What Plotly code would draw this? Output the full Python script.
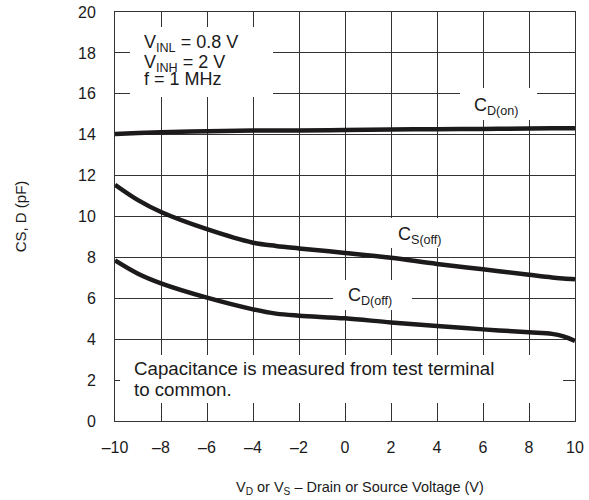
import plotly.graph_objects as go

# Data
vx = [-10, -9, -8, -6, -4, -3, -2, 0, 2, 4, 6, 8, 9, 9.5, 10]
cd_on = [14.03, 14.08, 14.12, 14.17, 14.2, 14.2, 14.21, 14.23, 14.25, 14.27, 14.28, 14.3, 14.31, 14.31, 14.32]
cs_off = [11.55, 10.8, 10.22, 9.38, 8.72, 8.56, 8.44, 8.22, 7.98, 7.68, 7.42, 7.15, 7.02, 6.97, 6.93]
cd_off = [7.85, 7.2, 6.73, 6.03, 5.46, 5.25, 5.15, 5.02, 4.82, 4.65, 4.48, 4.34, 4.26, 4.14, 3.92]

xticks = list(range(-10, 11, 2))
xticktext = [("\u2013" + str(-t)) if t < 0 else str(t) for t in xticks]
yticks = list(range(0, 21, 2))

FONT = "Liberation Sans, Arial, Helvetica, sans-serif"
LINE = "#1c1a1a"
GRID = "#333333"
TXT = "#1a1a1a"

fig = go.Figure()
for ys in (cd_on, cs_off, cd_off):
    fig.add_trace(go.Scatter(x=vx, y=ys, mode="lines",
                             line=dict(color=LINE, width=4.5, shape="spline", smoothing=1.0),
                             showlegend=False, hoverinfo="skip"))

# white label boxes hiding the grid (between grid and traces)
boxes = [(-9.35, -3.13, 15.84, 19.27),
         (-9.78, 9.48, 0.88, 3.23),
         (5.0, 8.35, 14.72, 16.28),
         (1.74, 4.57, 8.46, 9.93),
         (-0.52, 2.91, 5.43, 6.89)]
for x0, x1, y0, y1 in boxes:
    fig.add_shape(type="rect", xref="x", yref="y", x0=x0, x1=x1, y0=y0, y1=y1,
                  fillcolor="white", line=dict(width=0), layer="between")

anns = [
    (-8.78, 18.48, "V<sub>INL</sub> = 0.8 V", 18),
    (-8.78, 17.5, "V<sub>INH</sub> = 2 V", 18),
    (-8.78, 16.72, "f = 1 MHz", 18),
    (-9.22, 2.59, "Capacitance is measured from test terminal", 18.7),
    (-9.22, 1.56, "to common.", 18.7),
    (5.57, 15.38, "C<sub>D(on)</sub>", 18),
    (2.25, 9.07, "C<sub>S(off)</sub>", 18),
    (0.1, 6.09, "C<sub>D(off)</sub>", 18),
]
for x, y, t, s in anns:
    fig.add_annotation(x=x, y=y, xref="x", yref="y", text=t, showarrow=False,
                       xanchor="left", yanchor="middle", align="left",
                       font=dict(family=FONT, size=s, color=TXT), borderpad=0)

# x-axis title (slightly right of plot centre, as in the reference)
fig.add_annotation(x=0.5326, y=-0.164, xref="paper", yref="paper",
                   text="V<sub>D</sub> or V<sub>S</sub> \u2013 Drain or Source Voltage (V)",
                   showarrow=False, xanchor="center", yanchor="middle",
                   font=dict(family=FONT, size=14.5, color=TXT))

fig.update_layout(
    width=589, height=500,
    margin=dict(l=115, r=14, t=12, b=79),
    paper_bgcolor="white", plot_bgcolor="white",
    font=dict(family=FONT, size=16, color=TXT),
)
fig.update_xaxes(range=[-10, 10], tickvals=xticks, ticktext=xticktext,
                 showgrid=True, gridcolor=GRID, gridwidth=1, zeroline=False,
                 showline=True, linecolor=GRID, linewidth=1, mirror=True,
                 ticks="", ticklabelstandoff=12, automargin=False,
                 tickfont=dict(size=16))
fig.update_yaxes(range=[0, 20], tickvals=yticks,
                 showgrid=True, gridcolor=GRID, gridwidth=1, zeroline=False,
                 showline=True, linecolor=GRID, linewidth=1, mirror=True,
                 ticks="", ticklabelstandoff=15, automargin=False,
                 tickfont=dict(size=16),
                 title=dict(text="CS, D (pF)", standoff=47, font=dict(size=15)))

# remove the browser's default 8px body margin so the figure sits at (0, 0)
fig.write_html("out.html", config={"displayModeBar": False},
               post_script="document.body.style.margin='0';")
